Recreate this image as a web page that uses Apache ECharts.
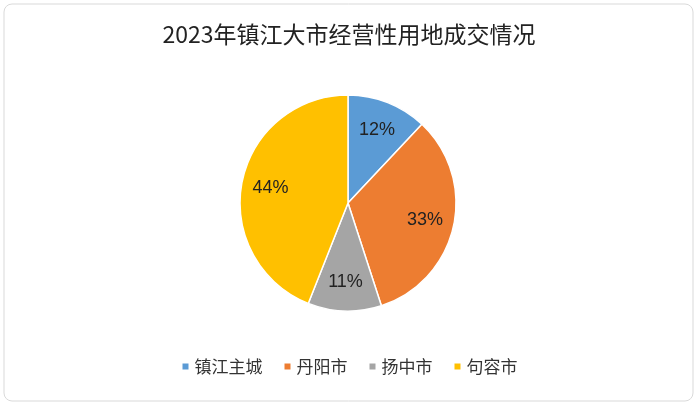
<!DOCTYPE html><html><head><meta charset="utf-8"><script src="https://cdn.jsdelivr.net/npm/echarts@6/dist/echarts.min.js"></script>
<style>body{margin:0;background:#fff}#c{width:698px;height:406px}</style></head><body><div id="c"></div><script>
const categories=['镇江主城','丹阳市','扬中市','句容市'];
const values=[12,33,11,44];
const colors=['#5B9BD5','#ED7D31','#A5A5A5','#FFC000'];
const data=categories.map((n,i)=>({name:n,value:values[i]}));
const ch=echarts.init(document.getElementById('c'));
ch.setOption({
 color:colors,
 graphic:[{type:'rect',shape:{x:4,y:4,width:689,height:397,r:8},style:{fill:'none',stroke:'#d9d9d9',lineWidth:1}}],
 title:{text:'2023年镇江大市经营性用地成交情况',left:'center',top:18,textStyle:{fontSize:23,fontWeight:'normal',color:'#222',fontFamily:'Noto Sans CJK SC'}},
 legend:{bottom:26,icon:'rect',itemWidth:8,itemHeight:8,itemGap:20,textStyle:{fontSize:17,color:'#333',fontFamily:'Noto Sans CJK SC'},data:categories},
 series:[
  {type:'pie',center:[348,203],radius:[0,108],startAngle:90,clockwise:true,silent:true,data:data,label:{show:false},labelLine:{show:false},itemStyle:{borderColor:'#fff',borderWidth:1.5}},
  {type:'pie',center:[348,203],radius:[44,108],startAngle:90,clockwise:true,silent:true,data:data,itemStyle:{color:'transparent'},
   label:{show:true,position:'inside',formatter:'{d}%',fontSize:18,color:'#222',fontFamily:'Liberation Sans'},labelLine:{show:false}}
 ]
});
</script></body></html>
